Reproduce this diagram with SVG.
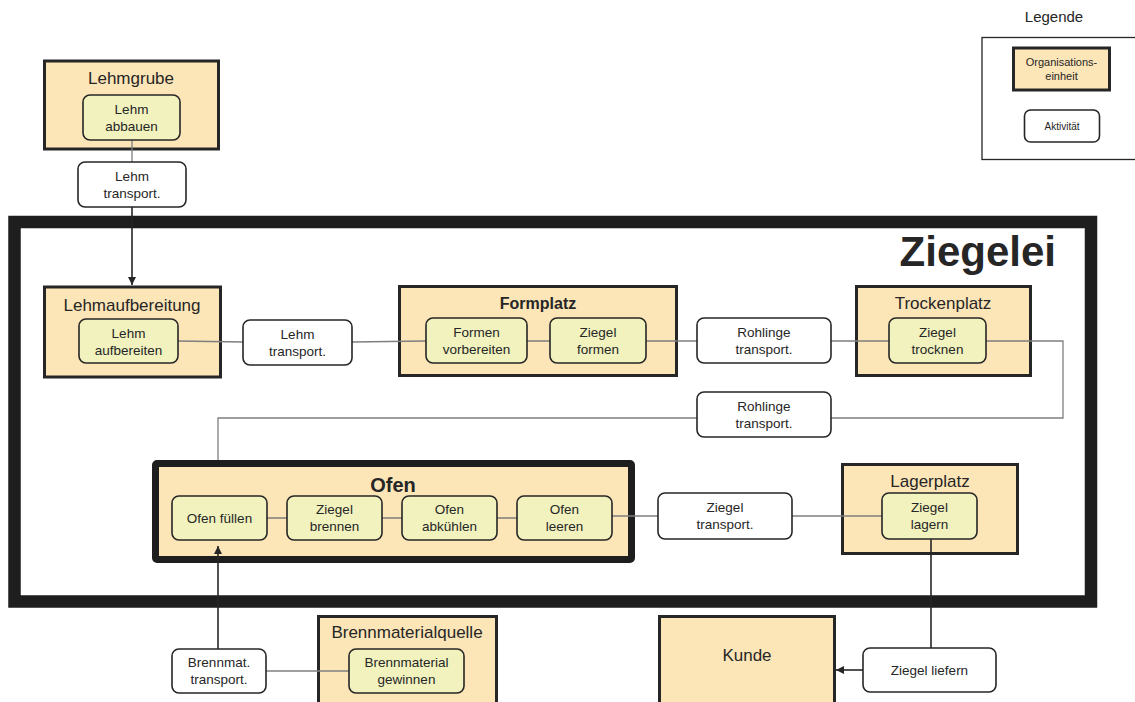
<svg xmlns="http://www.w3.org/2000/svg" width="1135" height="702" viewBox="0 0 1135 702">
<defs>
<style>
text{font-family:"Liberation Sans",Arial,sans-serif;fill:#262626;text-anchor:middle}
.org{fill:#FCE5B7;stroke:#262626;stroke-width:3}
.act{fill:#F1F2BE;stroke:#262626;stroke-width:1.6}
.tr{fill:#fff;stroke:#262626;stroke-width:1.6}
.t{font-size:17px}
.a{font-size:13.5px}
.c{fill:none;stroke:#7f7f7f;stroke-width:1.3}
.ca{fill:none;stroke:#262626;stroke-width:1.6}
</style>
<marker id="arr" viewBox="0 0 10 10" refX="10" refY="5" markerWidth="8" markerHeight="8" markerUnits="userSpaceOnUse" orient="auto"><path d="M0,0L10,5L0,10z" fill="#262626"/></marker>
</defs>
<rect width="1135" height="702" fill="#fff"/>

<g id="ziegelei">
<rect x="14.5" y="222" width="1076.5" height="379.5" fill="none" stroke="#1e1e1e" stroke-width="12.5"/>
<text x="1056" y="266" style="font-size:42px;font-weight:bold;text-anchor:end" fill="#1e1e1e">Ziegelei</text>
</g>

<g id="lehmgrube">
<rect class="org" x="44.5" y="61" width="174" height="88"/>
<text class="t" x="131" y="84">Lehmgrube</text>
</g>
<g id="lehmaufbereitung">
<rect class="org" x="44.5" y="287" width="176" height="90"/>
<text class="t" x="132" y="311">Lehmaufbereitung</text>
</g>
<g id="formplatz">
<rect class="org" x="399.5" y="286.5" width="277" height="89"/>
<text x="538" y="309" style="font-size:16px;font-weight:bold">Formplatz</text>
</g>
<g id="trockenplatz">
<rect class="org" x="856.5" y="286.5" width="174" height="89"/>
<text class="t" x="943" y="309">Trockenplatz</text>
</g>
<g id="ofen">
<rect x="155.5" y="463.5" width="476" height="96" fill="#FCE5B7" stroke="#1e1e1e" stroke-width="7" rx="1.5"/>
<text x="393" y="492" style="font-size:20px;font-weight:bold" fill="#1e1e1e">Ofen</text>
</g>
<g id="lagerplatz">
<rect class="org" x="842.5" y="464.5" width="175" height="89"/>
<text class="t" x="930" y="487">Lagerplatz</text>
</g>
<g id="kunde">
<rect class="org" x="659.5" y="616.5" width="175" height="100"/>
<text class="t" x="747" y="661">Kunde</text>
</g>
<g id="brennmaterialquelle">
<rect class="org" x="318.5" y="616.5" width="178" height="100"/>
<text class="t" x="407" y="638">Brennmaterialquelle</text>
</g>

<g id="connectors">
<path class="c" d="M132,140V162"/>
<path class="ca" d="M132,207V285" marker-end="url(#arr)"/>
<path class="c" d="M178,341L243,342M352,342L426,341M527,341H550M646,341H697M831,341H889"/>
<path class="c" d="M986,341H1063V418H831M697,418H218V460"/>
<path class="c" d="M267,518H287M382,518H402M497,518H517M612,516H658M792,516H882"/>
<path class="ca" d="M931,539V648"/>
<path class="ca" d="M863,670H836" marker-end="url(#arr)"/>
<path class="ca" d="M218,649V546" marker-end="url(#arr)"/>
<path class="c" d="M266,671H349"/>
</g>

<g id="lehm-abbauen">
<rect class="act" x="83" y="95" width="97" height="45" rx="7"/>
<text class="a" x="131.5" y="114">Lehm</text><text class="a" x="131.5" y="131">abbauen</text>
</g>
<g id="lehm-transport-1">
<rect class="tr" x="78" y="162" width="108" height="45" rx="7"/>
<text class="a" x="132" y="181">Lehm</text><text class="a" x="132" y="198">transport.</text>
</g>
<g id="lehm-aufbereiten">
<rect class="act" x="79" y="319" width="99" height="44" rx="7"/>
<text class="a" x="128.5" y="338">Lehm</text><text class="a" x="128.5" y="355">aufbereiten</text>
</g>
<g id="lehm-transport-2">
<rect class="tr" x="243" y="320" width="109" height="45" rx="7"/>
<text class="a" x="297.5" y="339">Lehm</text><text class="a" x="297.5" y="356">transport.</text>
</g>
<g id="formen-vorbereiten">
<rect class="act" x="426" y="318" width="101" height="45" rx="7"/>
<text class="a" x="476.5" y="337">Formen</text><text class="a" x="476.5" y="354">vorbereiten</text>
</g>
<g id="ziegel-formen">
<rect class="act" x="550" y="318" width="96" height="45" rx="7"/>
<text class="a" x="598" y="337">Ziegel</text><text class="a" x="598" y="354">formen</text>
</g>
<g id="rohlinge-transport-1">
<rect class="tr" x="697" y="318" width="134" height="45" rx="7"/>
<text class="a" x="764" y="337">Rohlinge</text><text class="a" x="764" y="354">transport.</text>
</g>
<g id="ziegel-trocknen">
<rect class="act" x="889" y="318" width="97" height="45" rx="7"/>
<text class="a" x="937.5" y="337">Ziegel</text><text class="a" x="937.5" y="354">trocknen</text>
</g>
<g id="rohlinge-transport-2">
<rect class="tr" x="697" y="392" width="134" height="45" rx="7"/>
<text class="a" x="764" y="411">Rohlinge</text><text class="a" x="764" y="428">transport.</text>
</g>
<g id="ofen-fuellen">
<rect class="act" x="172" y="496" width="95" height="44" rx="7"/>
<text class="a" x="219.5" y="523">Ofen füllen</text>
</g>
<g id="ziegel-brennen">
<rect class="act" x="287" y="496" width="95" height="44" rx="7"/>
<text class="a" x="334.5" y="514">Ziegel</text><text class="a" x="334.5" y="531">brennen</text>
</g>
<g id="ofen-abkuehlen">
<rect class="act" x="402" y="496" width="95" height="44" rx="7"/>
<text class="a" x="449.5" y="514">Ofen</text><text class="a" x="449.5" y="531">abkühlen</text>
</g>
<g id="ofen-leeren">
<rect class="act" x="517" y="496" width="95" height="44" rx="7"/>
<text class="a" x="564.5" y="514">Ofen</text><text class="a" x="564.5" y="531">leeren</text>
</g>
<g id="ziegel-transport">
<rect class="tr" x="658" y="493" width="134" height="46" rx="7"/>
<text class="a" x="725" y="512">Ziegel</text><text class="a" x="725" y="529">transport.</text>
</g>
<g id="ziegel-lagern">
<rect class="act" x="882" y="493" width="95" height="46" rx="7"/>
<text class="a" x="929.5" y="512">Ziegel</text><text class="a" x="929.5" y="529">lagern</text>
</g>
<g id="ziegel-liefern">
<rect class="tr" x="863" y="648" width="133" height="44" rx="7"/>
<text class="a" x="929.5" y="675">Ziegel liefern</text>
</g>
<g id="brennmaterial-gewinnen">
<rect class="act" x="349" y="649" width="115" height="44" rx="7"/>
<text class="a" x="406.5" y="667">Brennmaterial</text><text class="a" x="406.5" y="684">gewinnen</text>
</g>
<g id="brennmat-transport">
<rect class="tr" x="172" y="649" width="94" height="44" rx="7"/>
<text class="a" x="219" y="667">Brennmat.</text><text class="a" x="219" y="684">transport.</text>
</g>

<g id="legende">
<text x="1054" y="22" style="font-size:15px">Legende</text>
<rect x="982" y="37.5" width="160" height="122" fill="#fff" stroke="#262626" stroke-width="1.3"/>
<rect class="org" x="1013.5" y="48" width="96" height="42"/>
<text x="1061.5" y="66" style="font-size:11px">Organisations-</text>
<text x="1061.5" y="80" style="font-size:11px">einheit</text>
<rect class="tr" x="1024.5" y="110" width="75" height="32" rx="6"/>
<text x="1062" y="130" style="font-size:10px">Aktivität</text>
</g>
</svg>
